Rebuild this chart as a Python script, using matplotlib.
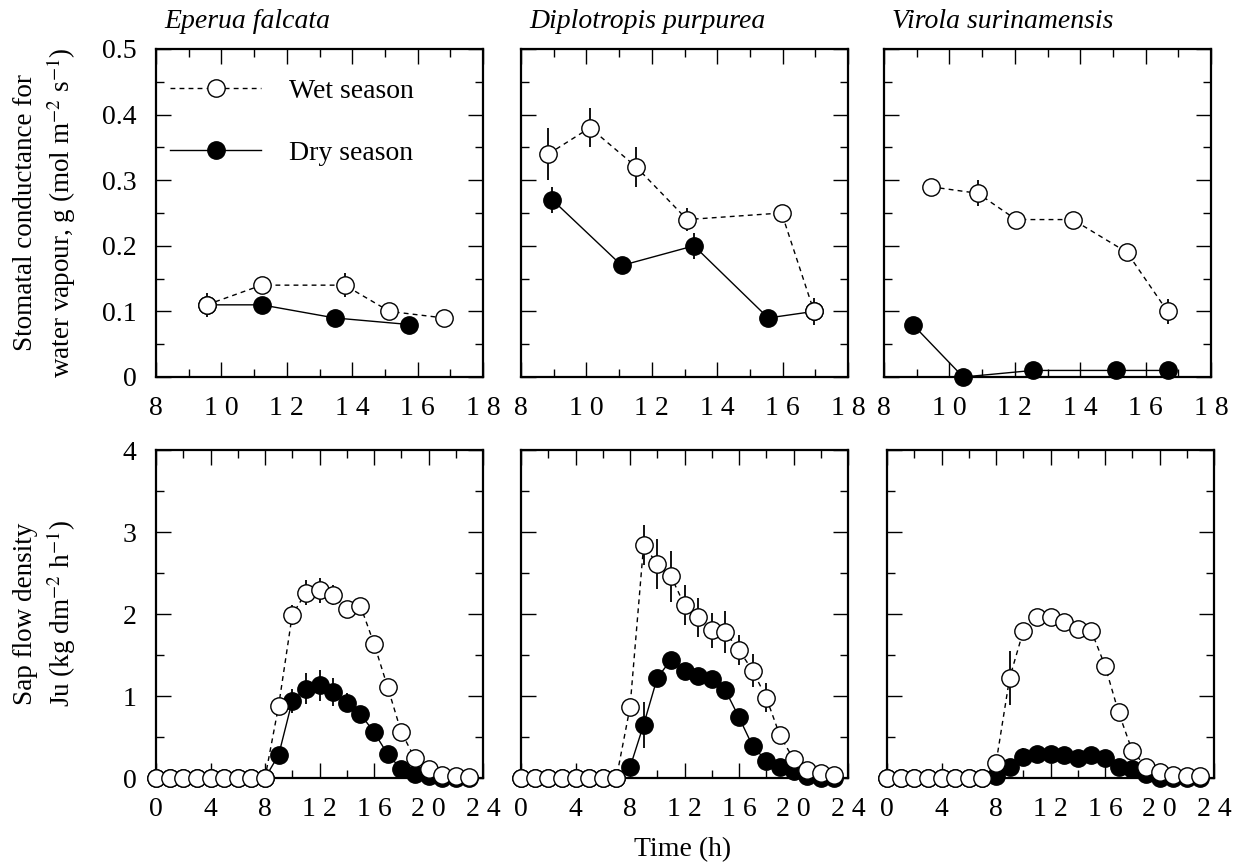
import matplotlib
matplotlib.use('Agg')
import matplotlib.pyplot as plt
from matplotlib.ticker import MultipleLocator, FixedLocator, FixedFormatter
from matplotlib.lines import Line2D

plt.rcParams['font.family'] = ['Liberation Serif', 'DejaVu Serif']
plt.rcParams['mathtext.fontset'] = 'stix'

species = ['Eperua falcata', 'Diplotropis purpurea', 'Virola surinamensis']

# ---- Stomatal conductance (top row) ----
gs_ef_wet_t = [9.55, 11.23, 13.77, 15.14, 16.81]
gs_ef_wet = [0.11, 0.14, 0.14, 0.10, 0.09]
gs_ef_wet_err = [0.018, 0.004, 0.018, 0.004, 0.004]
gs_ef_dry_t = [9.55, 11.23, 13.47, 15.74]
gs_ef_dry = [0.11, 0.11, 0.09, 0.08]
gs_ef_dry_err = [0.0, 0.0, 0.0, 0.0]

gs_dp_wet_t = [8.84, 10.11, 11.53, 13.08, 15.97, 16.96]
gs_dp_wet = [0.34, 0.38, 0.32, 0.24, 0.25, 0.10]
gs_dp_wet_err = [0.04, 0.03, 0.03, 0.017, 0.004, 0.02]
gs_dp_dry_t = [8.96, 11.08, 13.29, 15.56, 16.96]
gs_dp_dry = [0.27, 0.17, 0.20, 0.09, 0.10]
gs_dp_dry_err = [0.02, 0.0, 0.02, 0.0, 0.0]

gs_vs_wet_t = [9.43, 10.87, 12.04, 13.77, 15.43, 16.67]
gs_vs_wet = [0.29, 0.28, 0.24, 0.24, 0.19, 0.10]
gs_vs_wet_err = [0.0, 0.02, 0.0, 0.0, 0.0, 0.019]
gs_vs_dry_t = [8.88, 10.42, 12.55, 15.09, 16.69]
gs_vs_dry = [0.08, 0.0, 0.01, 0.01, 0.01]
gs_vs_dry_err = [0.0, 0.0, 0.0, 0.0, 0.0]

# ---- Sap flow density (bottom row) ----
hours = [0, 1, 2, 3, 4, 5, 6, 7, 8, 9, 10, 11, 12, 13, 14, 15, 16, 17, 18, 19, 20, 21, 22, 23]

ju_ef_wet = [0, 0, 0, 0, 0, 0, 0, 0, 0, 0.88, 1.99, 2.26, 2.29, 2.23, 2.06, 2.10, 1.64, 1.11, 0.56, 0.24, 0.11, 0.04, 0.02, 0.01]
ju_ef_wet_err = [0, 0, 0, 0, 0, 0, 0, 0, 0, 0.10, 0.12, 0.15, 0.15, 0.12, 0.08, 0.08, 0.05, 0.04, 0.03, 0.02, 0, 0, 0, 0]
ju_ef_dry = [0, 0, 0, 0, 0, 0, 0, 0, 0, 0.28, 0.94, 1.09, 1.13, 1.05, 0.92, 0.78, 0.56, 0.29, 0.11, 0.045, 0.02, 0, 0, 0]
ju_ef_dry_err = [0, 0, 0, 0, 0, 0, 0, 0, 0, 0.04, 0.15, 0.19, 0.19, 0.17, 0.12, 0.10, 0.08, 0.08, 0.03, 0.02, 0, 0, 0, 0]

ju_dp_wet = [0, 0, 0, 0, 0, 0, 0, 0, 0.86, 2.84, 2.61, 2.46, 2.11, 1.96, 1.80, 1.78, 1.56, 1.31, 0.98, 0.52, 0.23, 0.10, 0.06, 0.04]
ju_dp_wet_err = [0, 0, 0, 0, 0, 0, 0, 0, 0.10, 0.24, 0.30, 0.31, 0.24, 0.24, 0.21, 0.26, 0.18, 0.20, 0.18, 0.05, 0.03, 0, 0, 0]
ju_dp_dry = [0, 0, 0, 0, 0, 0, 0, 0, 0.13, 0.65, 1.22, 1.44, 1.30, 1.24, 1.21, 1.07, 0.74, 0.39, 0.21, 0.13, 0.09, 0.02, 0, 0]
ju_dp_dry_err = [0, 0, 0, 0, 0, 0, 0, 0, 0.02, 0.28, 0.04, 0.04, 0.03, 0.03, 0.03, 0.03, 0.03, 0.03, 0.02, 0.02, 0, 0, 0, 0]

ju_vs_wet = [0, 0, 0, 0, 0, 0, 0, 0, 0.18, 1.22, 1.79, 1.96, 1.96, 1.90, 1.82, 1.79, 1.37, 0.80, 0.33, 0.14, 0.07, 0.04, 0.03, 0.03]
ju_vs_wet_err = [0, 0, 0, 0, 0, 0, 0, 0, 0.03, 0.33, 0.10, 0.08, 0.10, 0.06, 0.08, 0.05, 0.08, 0.10, 0.10, 0.03, 0, 0, 0, 0]
ju_vs_dry = [0, 0, 0, 0, 0, 0, 0, 0, 0.03, 0.13, 0.26, 0.29, 0.29, 0.28, 0.24, 0.28, 0.24, 0.14, 0.11, 0.05, 0, 0, 0, 0]
ju_vs_dry_err = [0, 0, 0, 0, 0, 0, 0, 0, 0, 0.03, 0.10, 0.10, 0.08, 0.06, 0.06, 0.08, 0.06, 0.03, 0.10, 0.02, 0, 0, 0, 0]

top_xticks = [8, 10, 12, 14, 16, 18]
top_xlabels = ['8', '1 0', '1 2', '1 4', '1 6', '1 8']
top_yticks = [0, 0.1, 0.2, 0.3, 0.4, 0.5]
top_ylabels = ['0', '0.1', '0.2', '0.3', '0.4', '0.5']
bot_xticks = [0, 4, 8, 12, 16, 20, 24]
bot_xlabels = ['0', '4', '8', '1 2', '1 6', '2 0', '2 4']
bot_yticks = [0, 1, 2, 3, 4]
bot_ylabels = ['0', '1', '2', '3', '4']

W, H = 1233, 868
fig = plt.figure(figsize=(W / 100, H / 100), dpi=100)

aw = 327
top_y0, top_y1 = 49, 377
bot_y0, bot_y1 = 450, 778
top_lefts = [156, 521, 884]
bot_lefts = [156, 521, 887]

FS = 20
MS = 12.5

def make_ax(left, y0, y1):
    return fig.add_axes([left / W, (H - y1) / H, aw / W, (y1 - y0) / H])

def style(ax, xmin, xmax, xmin_step, ymin, ymax, ymin_step, showy):
    ax.set_xlim(xmin, xmax)
    ax.set_ylim(ymin, ymax)
    ax.xaxis.set_minor_locator(MultipleLocator(xmin_step))
    ax.yaxis.set_minor_locator(MultipleLocator(ymin_step))
    ax.tick_params(which='both', direction='in', top=True, right=True, width=1.0)
    ax.tick_params(which='major', length=11, labelsize=FS, pad=14)
    ax.tick_params(which='minor', length=5.5)
    if not showy:
        ax.tick_params(axis='y', labelleft=False)
    for sp in ax.spines.values():
        sp.set_linewidth(1.6)

def plot_series(ax, xw, yw, ew, xd, yd, ed):
    ax.errorbar(xd, yd, yerr=ed, fmt='-', color='black', lw=1.0, elinewidth=1.3,
                capsize=0, marker='o', ms=MS, mfc='black', mec='black', mew=1.0,
                clip_on=False, zorder=3)
    ax.errorbar(xw, yw, yerr=ew, fmt='-', color='black', lw=1.0, ls=(0, (3.5, 3)),
                elinewidth=1.3, capsize=0, marker='o', ms=MS, mfc='white', mec='black',
                mew=1.0, clip_on=False, zorder=4)

top_data = [
    (gs_ef_wet_t, gs_ef_wet, gs_ef_wet_err, gs_ef_dry_t, gs_ef_dry, gs_ef_dry_err),
    (gs_dp_wet_t, gs_dp_wet, gs_dp_wet_err, gs_dp_dry_t, gs_dp_dry, gs_dp_dry_err),
    (gs_vs_wet_t, gs_vs_wet, gs_vs_wet_err, gs_vs_dry_t, gs_vs_dry, gs_vs_dry_err),
]
bot_data = [
    (ju_ef_wet, ju_ef_wet_err, ju_ef_dry, ju_ef_dry_err),
    (ju_dp_wet, ju_dp_wet_err, ju_dp_dry, ju_dp_dry_err),
    (ju_vs_wet, ju_vs_wet_err, ju_vs_dry, ju_vs_dry_err),
]

for i in range(3):
    ax = make_ax(top_lefts[i], top_y0, top_y1)
    xw, yw, ew, xd, yd, ed = top_data[i]
    plot_series(ax, xw, yw, ew, xd, yd, ed)
    style(ax, 8, 18, 1, 0, 0.5, 0.05, i == 0)
    ax.xaxis.set_major_locator(FixedLocator(top_xticks))
    ax.xaxis.set_major_formatter(FixedFormatter(top_xlabels))
    ax.yaxis.set_major_locator(FixedLocator(top_yticks))
    ax.yaxis.set_major_formatter(FixedFormatter(top_ylabels))
    ax.set_title(species[i], loc='left', fontsize=FS, style='italic', pad=15, x=0.025)
    if i == 0:
        h_wet = Line2D([], [], color='black', lw=1.0, ls=(0, (3.5, 3)), marker='o',
                       ms=MS, mfc='white', mec='black', mew=1.0)
        h_dry = Line2D([], [], color='black', lw=1.0, ls='-', marker='o',
                       ms=MS, mfc='black', mec='black', mew=1.0)
        ax.legend([h_wet, h_dry], ['Wet season', 'Dry season'], loc='upper left',
                  frameon=False, fontsize=FS, handlelength=3.3, handletextpad=1.0,
                  labelspacing=1.3, borderpad=0.0, borderaxespad=0.0,
                  bbox_to_anchor=(0.042, 0.91))

    axb = make_ax(bot_lefts[i], bot_y0, bot_y1)
    yw, ew, yd, ed = bot_data[i]
    plot_series(axb, hours, yw, ew, hours, yd, ed)
    style(axb, 0, 24, 2, 0, 4, 0.5, i == 0)
    axb.xaxis.set_major_locator(FixedLocator(bot_xticks))
    axb.xaxis.set_major_formatter(FixedFormatter(bot_xlabels))
    axb.yaxis.set_major_locator(FixedLocator(bot_yticks))
    axb.yaxis.set_major_formatter(FixedFormatter(bot_ylabels))

fig.text(46 / W, (H - 213) / H, 'Stomatal conductance for\nwater vapour, g (mol m$^{-2}$ s$^{-1}$)',
         rotation=90, ha='center', va='center', fontsize=FS - 0.5, linespacing=1.25)
fig.text(46 / W, (H - 614) / H, 'Sap flow density\nJu (kg dm$^{-2}$ h$^{-1}$)',
         rotation=90, ha='center', va='center', fontsize=FS - 0.5, linespacing=1.25)
fig.text(683 / W, (H - 850) / H, 'Time (h)', ha='center', va='center', fontsize=FS)

fig.savefig('out.png', dpi=100)
